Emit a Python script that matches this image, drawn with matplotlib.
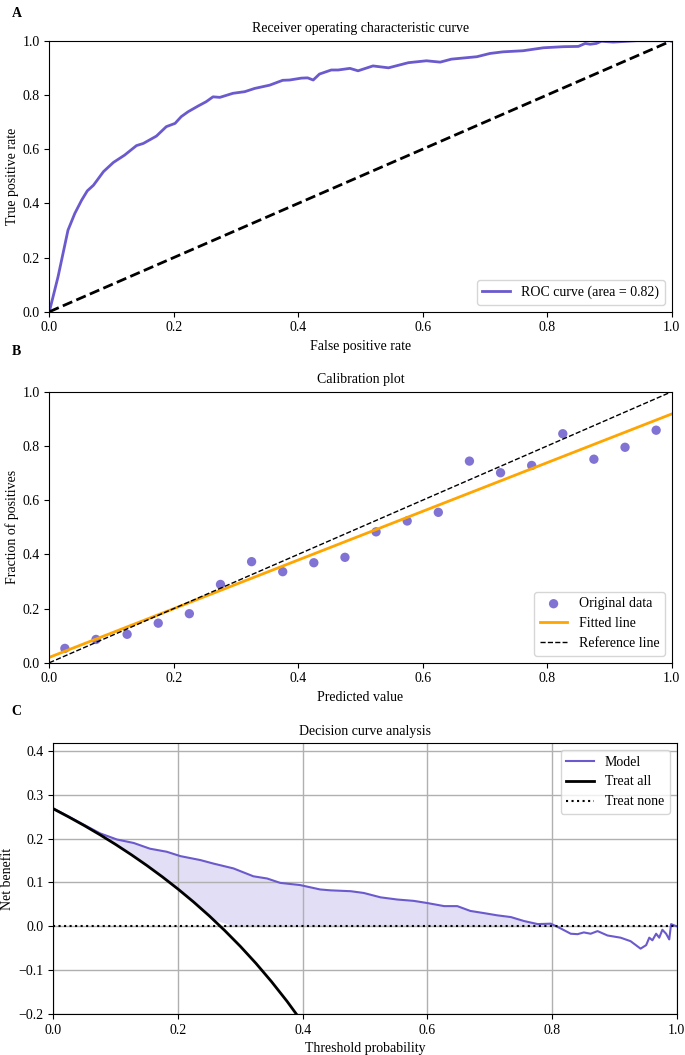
import matplotlib
matplotlib.use("Agg")
import matplotlib.pyplot as plt
import numpy as np

plt.rcParams["font.family"] = ["Liberation Serif", "DejaVu Serif"]
plt.rcParams["font.size"] = 10

# --- A: ROC curve
roc_fpr = [0.0, 0.014, 0.030, 0.041, 0.052, 0.061, 0.071, 0.087, 0.103, 0.121,
           0.140, 0.151, 0.172, 0.188, 0.202, 0.212, 0.223, 0.239, 0.252, 0.263,
           0.274, 0.295, 0.314, 0.330, 0.354, 0.375, 0.386, 0.405, 0.415, 0.424,
           0.434, 0.453, 0.464, 0.483, 0.496, 0.520, 0.545, 0.577, 0.606, 0.628,
           0.646, 0.687, 0.708, 0.729, 0.761, 0.794, 0.826, 0.850, 0.861, 0.869,
           0.879, 0.887, 0.906, 0.944, 1.0]
roc_tpr = [0.0, 0.129, 0.301, 0.363, 0.412, 0.446, 0.467, 0.517, 0.551, 0.578,
           0.613, 0.621, 0.648, 0.683, 0.695, 0.720, 0.738, 0.759, 0.775, 0.793,
           0.791, 0.806, 0.812, 0.824, 0.836, 0.854, 0.855, 0.862, 0.863, 0.855,
           0.877, 0.892, 0.892, 0.898, 0.889, 0.907, 0.900, 0.919, 0.926, 0.921,
           0.932, 0.941, 0.953, 0.959, 0.963, 0.974, 0.978, 0.979, 0.990, 0.987,
           0.990, 0.998, 0.995, 1.0, 1.0]
roc_auc = 0.82

# --- B: calibration
cal_pred = [0.025, 0.075, 0.125, 0.175, 0.225, 0.275, 0.325, 0.375, 0.425, 0.475,
            0.525, 0.575, 0.625, 0.675, 0.725, 0.775, 0.825, 0.875, 0.925, 0.975]
cal_frac = [0.053, 0.086, 0.105, 0.146, 0.181, 0.289, 0.373, 0.336, 0.369, 0.389,
            0.483, 0.523, 0.555, 0.744, 0.701, 0.728, 0.845, 0.751, 0.795, 0.858]
fit_intercept = 0.02
fit_slope = 0.898

# --- C: decision curve
dca_thresh = [0.0, 0.075, 0.102, 0.129, 0.155, 0.182, 0.204, 0.236, 0.257, 0.289,
              0.321, 0.343, 0.364, 0.396, 0.428, 0.4445, 0.477, 0.498, 0.525, 0.552,
              0.578, 0.600, 0.627, 0.648, 0.669, 0.691, 0.712, 0.734, 0.755, 0.777,
              0.798, 0.814, 0.830, 0.841, 0.851, 0.862, 0.873, 0.889, 0.910, 0.926,
              0.942, 0.951, 0.956, 0.961, 0.967, 0.972, 0.977, 0.983, 0.988, 0.991,
              0.996, 1.0]
dca_model = [0.269, 0.212, 0.198, 0.190, 0.177, 0.170, 0.160, 0.151, 0.143, 0.132,
             0.114, 0.109, 0.099, 0.094, 0.084, 0.082, 0.080, 0.076, 0.066, 0.061,
             0.058, 0.053, 0.046, 0.046, 0.035, 0.030, 0.025, 0.021, 0.012, 0.005,
             0.006, -0.005, -0.017, -0.018, -0.014, -0.017, -0.011, -0.021, -0.026, -0.034,
             -0.051, -0.043, -0.026, -0.032, -0.017, -0.026, -0.008, -0.017, -0.030, 0.005,
             0.002, 0.0]
all_thresh = [0.0, 0.025, 0.05, 0.075, 0.1, 0.125, 0.15, 0.175, 0.2, 0.225,
              0.25, 0.275, 0.3, 0.325, 0.35, 0.375, 0.4]
all_nb = [0.268, 0.2492, 0.2295, 0.2087, 0.1867, 0.1634, 0.1388, 0.1127, 0.085, 0.0555,
          0.024, -0.0097, -0.0457, -0.0844, -0.1262, -0.1712, -0.22]

purple = "#6A5ACD"

fig = plt.figure(figsize=(6.85, 10.55), dpi=100)

# A
ax1 = fig.add_axes([0.072, 0.7045, 0.9086, 0.2569])
ax1.plot(roc_fpr, roc_tpr, color=purple, lw=2, label=f"ROC curve (area = {roc_auc:.2f})")
ax1.plot([0, 1], [0, 1], color="black", lw=2, ls="--")
ax1.set_xlim(0, 1)
ax1.set_ylim(0, 1)
ax1.set_xlabel("False positive rate")
ax1.set_ylabel("True positive rate")
ax1.yaxis.set_label_coords(-0.049, 0.5)
ax1.set_title("Receiver operating characteristic curve", fontsize=10)
ax1.legend(loc="lower right")

# B
ax2 = fig.add_axes([0.072, 0.3718, 0.9086, 0.2569])
ax2.scatter(cal_pred, cal_frac, color=purple, alpha=0.85, s=45, edgecolors="none",
            label="Original data")
xs = np.array([0.0, 1.0])
ax2.plot(xs, fit_intercept + fit_slope * xs, color="orange", lw=2, label="Fitted line")
ax2.plot([0, 1], [0, 1], color="black", lw=1, ls="--", label="Reference line")
ax2.set_xlim(0, 1)
ax2.set_ylim(0, 1)
ax2.set_xlabel("Predicted value")
ax2.set_ylabel("Fraction of positives")
ax2.yaxis.set_label_coords(-0.049, 0.5)
ax2.set_title("Calibration plot", fontsize=10)
ax2.legend(loc="lower right")

# C
ax3 = fig.add_axes([0.0778, 0.0389, 0.9101, 0.2568])
ax3.plot(dca_thresh, dca_model, color=purple, lw=1.5, label="Model")
ax3.plot(all_thresh, all_nb, color="black", lw=2, label="Treat all")
ax3.plot([0, 1], [0, 0], color="black", lw=1.5, ls=":", label="Treat none")
t = np.array(dca_thresh)
m = np.array(dca_model)
base = np.maximum(np.interp(t, all_thresh, all_nb, right=-1), 0)
ax3.fill_between(t, m, base, where=m > base, color=purple, alpha=0.2, lw=0,
                 interpolate=True)
ax3.set_xlim(0, 1)
ax3.set_ylim(-0.2, 0.418)
ax3.grid(True, color="#b0b0b0", lw=1)
ax3.set_xlabel("Threshold probability")
ax3.set_ylabel("Net benefit")
ax3.yaxis.set_label_coords(-0.063, 0.5)
ax3.set_title("Decision curve analysis", fontsize=10)
ax3.legend(loc="upper right")

for label, y in [("A", 0.987), ("B", 0.667), ("C", 0.326)]:
    fig.text(0.017, y, label, fontweight="bold", fontsize=10, va="center")

fig.savefig("out.png", dpi=100)
